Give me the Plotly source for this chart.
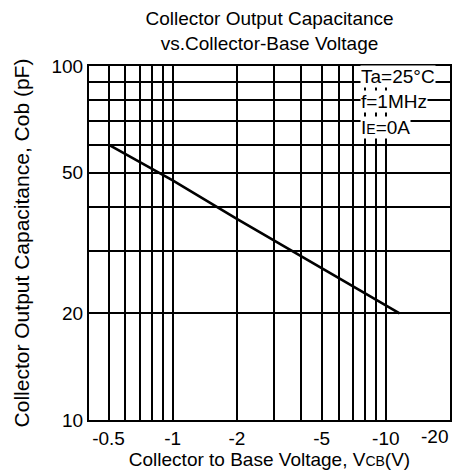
import numpy as np
import plotly.graph_objects as go

# Data
vcb = [-0.5, -1, -2, -5, -10, -11.6]          # Collector-to-base voltage (V)
cob = [60, 47.5, 37, 26.8, 21.1, 20]           # Output capacitance (pF)

x_grid = [-0.5, -0.6, -0.7, -0.8, -0.9, -1, -2, -3, -4, -5, -6, -7, -8, -9, -10, -20]
x_labels = ["-0.5", "", "", "", "", "-1", "-2", "", "", "-5", "", "", "", "",
            "-10", ""]
x_last_label = "-20"   # drawn right-aligned at the axis end, as in the reference
y_grid = [10, 20, 30, 40, 50, 60, 70, 80, 90, 100]
y_labels = ["10", "20", "", "", "50", "", "", "", "", "100"]

FONT = "Liberation Sans, Arial, sans-serif"

fig = go.Figure()
fig.add_trace(go.Scatter(
    x=[abs(v) for v in vcb], y=cob, mode="lines",
    line=dict(color="black", width=2.6), showlegend=False, hoverinfo="skip"))

fig.update_layout(
    width=462, height=470,
    margin=dict(l=89, r=12, t=66, b=50),
    paper_bgcolor="white", plot_bgcolor="white",
    font=dict(family=FONT, size=19, color="black"),
    title=dict(text="Collector Output Capacitance<br>vs.Collector-Base Voltage",
               x=0.5, xref="paper", xanchor="center",
               y=0.947, yref="container", yanchor="top",
               font=dict(size=19, family=FONT, color="black")),
    xaxis=dict(type="log", range=[np.log10(0.405), np.log10(20)],
               tickvals=[abs(v) for v in x_grid], ticktext=x_labels,
               showgrid=True, gridcolor="black", gridwidth=1.5,
               showline=True, mirror=True, linecolor="black", linewidth=2,
               ticks="", zeroline=False, tickfont=dict(size=19), automargin=False,
               title=dict(text="Collector to Base Voltage, V<span style='font-size:14px'>CB</span>(V)",
                          font=dict(size=19), standoff=0)),
    yaxis=dict(type="log", range=[1, 2],
               tickvals=y_grid, ticktext=y_labels,
               showgrid=True, gridcolor="black", gridwidth=1.5,
               showline=True, mirror=True, linecolor="black", linewidth=2,
               ticks="", zeroline=False, tickfont=dict(size=19), automargin=False,
               title=dict(text="Collector Output Capacitance, Cob (pF)",
                          font=dict(size=21), standoff=16)),
)

fig.add_annotation(text=x_last_label, xref="x", yref="paper",
                   x=np.log10(abs(x_grid[-1])), y=0, xanchor="right", yanchor="top",
                   yshift=-4, showarrow=False,
                   font=dict(size=19, family=FONT, color="black"))

notes = ["Ta=25°C", "f=1MHz", "I<span style='font-size:14px'>E</span>=0A"]
note_y = [0.969, 0.901, 0.825]
for txt, yy in zip(notes, note_y):
    fig.add_annotation(text=txt, xref="paper", yref="paper", x=0.752, y=yy,
                       xanchor="left", yanchor="middle", showarrow=False,
                       bgcolor="white", borderpad=0,
                       font=dict(size=19, family=FONT, color="black"))

fig.write_html("out.html")
